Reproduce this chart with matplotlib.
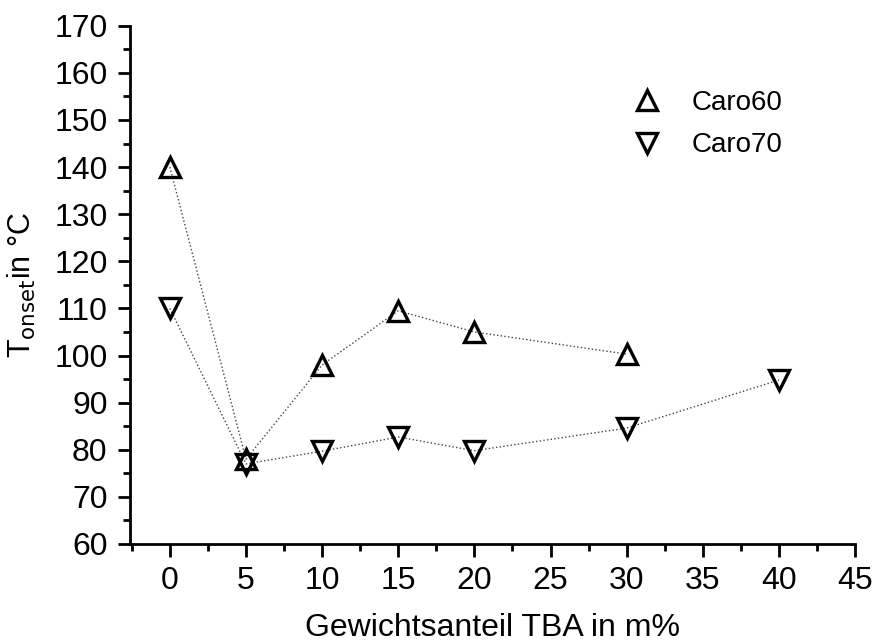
import matplotlib.pyplot as plt
from matplotlib.ticker import MultipleLocator

plt.rcParams['font.family'] = ['Liberation Sans', 'DejaVu Sans']

x_caro60 = [0, 5, 10, 15, 20, 30]
y_caro60 = [140, 78, 98, 109.5, 105, 100.3]
x_caro70 = [0, 5, 10, 15, 20, 30, 40]
y_caro70 = [110, 77, 79.7, 82.7, 79.8, 84.6, 94.8]

fig = plt.figure(figsize=(8.77, 6.43), dpi=100)
ax = fig.add_axes([0.148, 0.154, 0.827, 0.806])

ax.plot(x_caro60, y_caro60, color='#444444', linestyle=':', linewidth=1, zorder=1)
ax.plot(x_caro70, y_caro70, color='#444444', linestyle=':', linewidth=1, zorder=1)
ax.plot(x_caro60, y_caro60, linestyle='none', marker='^', markersize=14,
        markerfacecolor='none', markeredgecolor='black', markeredgewidth=2.4, label='Caro60')
ax.plot(x_caro70, y_caro70, linestyle='none', marker='v', markersize=14,
        markerfacecolor='none', markeredgecolor='black', markeredgewidth=2.4, label='Caro70')

ax.set_xlim(-2.63, 45)
ax.set_ylim(60, 170)
ax.xaxis.set_major_locator(MultipleLocator(5))
ax.xaxis.set_minor_locator(MultipleLocator(2.5))
ax.yaxis.set_major_locator(MultipleLocator(10))
ax.yaxis.set_minor_locator(MultipleLocator(5))

for s in ['top', 'right']:
    ax.spines[s].set_visible(False)
for s in ['left', 'bottom']:
    ax.spines[s].set_linewidth(2)

ax.tick_params(which='major', direction='out', length=9, width=2, labelsize=23, pad=7)
ax.tick_params(which='minor', direction='out', length=5, width=2)

ax.set_xlabel('Gewichtsanteil TBA in m%', fontsize=23, labelpad=12)
ax.set_ylabel('T$_{\\mathrm{onset}}$in °C', fontsize=22, labelpad=12)

ax.legend(loc='upper left', bbox_to_anchor=(0.64, 0.925), frameon=False, fontsize=20,
          handletextpad=0.6, labelspacing=0.6)

plt.savefig('out.png')
